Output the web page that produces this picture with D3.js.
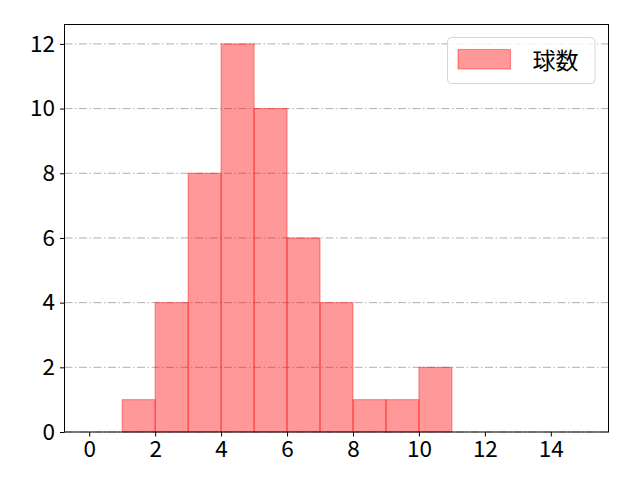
<!DOCTYPE html>
<html>
<head>
<meta charset="utf-8">
<script src="https://cdn.jsdelivr.net/npm/d3@7"></script>
<style>
  body { margin: 0; background: #fff; }
  svg { display: block; font-family: "Noto Sans CJK JP", "Noto Sans", sans-serif; }
</style>
</head>
<body>
<svg width="640" height="480"></svg>
<script>
// histogram bins (left edges) and counts
var binStarts = [1, 2, 3, 4, 5, 6, 7, 8, 9, 10];
var counts = [1, 4, 8, 12, 10, 6, 4, 1, 1, 2];
var xTicks = [0, 2, 4, 6, 8, 10, 12, 14];
var yTicks = [0, 2, 4, 6, 8, 10, 12];
var seriesName = "球数";

var svg = d3.select("svg"),
    margin = {top: 24.5, right: 31.5, bottom: 48, left: 64.5},
    width = +svg.attr("width") - margin.left - margin.right,
    height = +svg.attr("height") - margin.top - margin.bottom,
    g = svg.append("g").attr("transform", "translate(" + margin.left + "," + margin.top + ")");

var x = d3.scaleLinear().domain([-0.75, 15.75]).range([0, width]);
var y = d3.scaleLinear().domain([0, 12.6]).range([height, 0]);

// grid
g.append("g")
  .selectAll("line")
  .data(yTicks)
  .enter().append("line")
    .attr("x1", 0)
    .attr("x2", width)
    .attr("y1", function(d) { return y(d); })
    .attr("y2", function(d) { return y(d); })
    .attr("stroke", "#b0b0b0")
    .attr("stroke-width", 1)
    .attr("stroke-dasharray", "8,2.5,1.5,2.5");

// bars
g.append("g")
  .selectAll("rect")
  .data(counts)
  .enter().append("rect")
    .attr("x", function(d, i) { return x(binStarts[i]); })
    .attr("y", function(d) { return y(d); })
    .attr("width", function(d, i) { return x(binStarts[i] + 1) - x(binStarts[i]); })
    .attr("height", function(d) { return y(0) - y(d); })
    .attr("fill", "rgba(255,0,0,0.4)")
    .attr("stroke", "rgba(255,0,0,0.4)")
    .attr("stroke-width", 1.1);

// axes
var xAxis = g.append("g")
    .attr("transform", "translate(0," + height + ")")
    .call(d3.axisBottom(x).tickValues(xTicks).tickSize(4.5).tickPadding(5));
var yAxis = g.append("g")
    .call(d3.axisLeft(y).tickValues(yTicks).tickSize(4.5).tickPadding(5));

[xAxis, yAxis].forEach(function(a) {
  a.select(".domain").remove();
  a.selectAll("line").attr("stroke", "#000").attr("stroke-width", 1);
  a.selectAll("text")
    .attr("fill", "#000")
    .attr("font-size", 22.5)
    .attr("font-family", "'Noto Sans CJK JP', sans-serif");
});

// frame
g.append("rect")
    .attr("width", width)
    .attr("height", height)
    .attr("fill", "none")
    .attr("stroke", "#000")
    .attr("stroke-width", 1);

// legend
var legend = g.append("g").attr("transform", "translate(" + (width - 161) + ",13)");
legend.append("rect")
    .attr("width", 147.5)
    .attr("height", 46)
    .attr("rx", 4)
    .attr("fill", "rgba(255,255,255,0.8)")
    .attr("stroke", "#d6d6d6")
    .attr("stroke-width", 1);
legend.append("rect")
    .attr("x", 10.5)
    .attr("y", 12)
    .attr("width", 52.5)
    .attr("height", 19.5)
    .attr("fill", "rgba(255,0,0,0.4)")
    .attr("stroke", "rgba(255,0,0,0.4)")
    .attr("stroke-width", 1.1);
legend.append("text")
    .attr("x", 85)
    .attr("y", 23)
    .attr("dy", "0.35em")
    .attr("font-size", 23)
    .attr("fill", "#000")
    .text(seriesName);
</script>
</body>
</html>
